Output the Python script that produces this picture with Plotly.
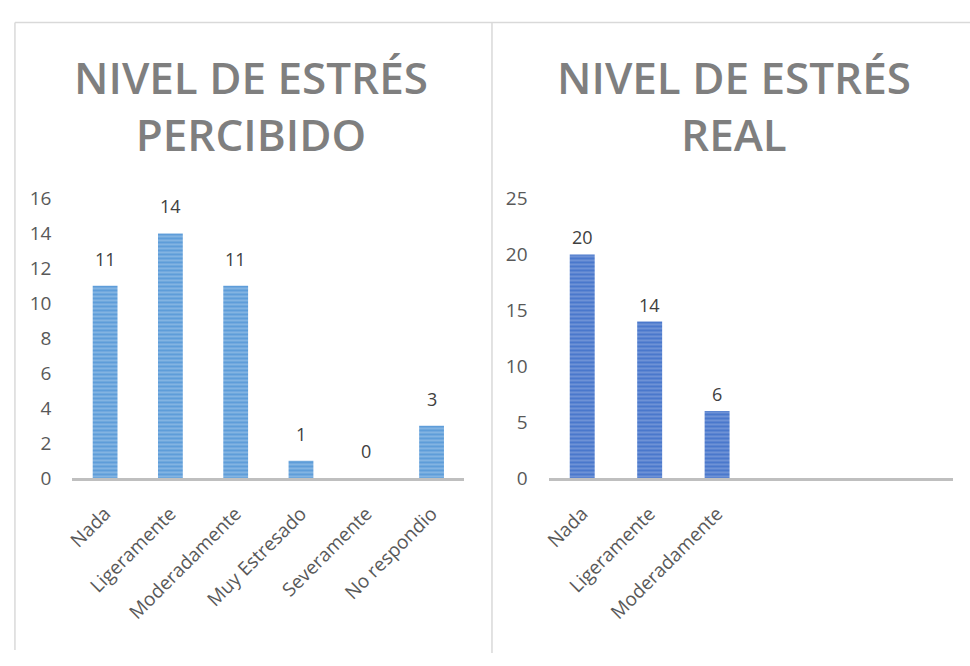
import plotly.graph_objects as go

# ---- data ----
cats_percibido = ["Nada", "Ligeramente", "Moderadamente", "Muy Estresado", "Severamente", "No respondio"]
vals_percibido = [11, 14, 11, 1, 0, 3]
cats_real = ["Nada", "Ligeramente", "Moderadamente"]
vals_real = [20, 14, 6]
ticks_percibido = [0, 2, 4, 6, 8, 10, 12, 14, 16]
ticks_real = [0, 5, 10, 15, 20, 25]
title_percibido = "NIVEL DE ESTRÉS<br>PERCIBIDO"
title_real = "NIVEL DE ESTRÉS<br>REAL"

W, H = 970, 666
FONT = "Open Sans"

fig = go.Figure()

fig.add_trace(go.Bar(
    x=cats_percibido, y=vals_percibido, xaxis="x", yaxis="y",
    width=0.38,
    marker=dict(color="#6aa5dd", line=dict(width=0),
                pattern=dict(shape="-", fgcolor="#b0d1ef", bgcolor="#5e9dd9", size=4, solidity=0.45)),
    showlegend=False, hoverinfo="x+y",
))
fig.add_trace(go.Bar(
    x=cats_real, y=vals_real, xaxis="x2", yaxis="y2",
    width=0.37,
    marker=dict(color="#4472c4", line=dict(width=0),
                pattern=dict(shape="-", fgcolor="#9ab2e4", bgcolor="#4a78cc", size=4, solidity=0.45)),
    showlegend=False, hoverinfo="x+y",
))

ydom = [1 - 484 / H, 1 - 193 / H]
axis_common = dict(showgrid=False, zeroline=False, fixedrange=True)
xfont = dict(size=19, color="#595959")
yfont = dict(size=19, color="#595959")
fig.update_layout(
    width=W, height=H,
    margin=dict(l=0, r=0, t=0, b=0),
    paper_bgcolor="white", plot_bgcolor="white",
    font=dict(family=FONT, color="#595959", size=17),
    xaxis=dict(domain=[65 / W, 460 / W], type="category", range=[-0.5, 5.5],
               showline=True, linecolor="#bfbfbf", linewidth=3, ticks="",
               ticklabelstandoff=14, tickangle=-45, tickfont=xfont, anchor="y", **axis_common),
    yaxis=dict(domain=ydom, range=[0, 16], tickvals=ticks_percibido, showline=False,
               ticklabelstandoff=20, tickfont=yfont, anchor="x", **axis_common),
    xaxis2=dict(domain=[545 / W, 953 / W], type="category", range=[-0.5, 5.5],
                showline=True, linecolor="#bfbfbf", linewidth=3, ticks="",
                ticklabelstandoff=14, tickangle=-45, tickfont=xfont, anchor="y2", **axis_common),
    yaxis2=dict(domain=ydom, range=[0, 25], tickvals=ticks_real, showline=False,
                ticklabelstandoff=20, tickfont=yfont, anchor="x2", **axis_common),
)

# data labels
for c, v in zip(cats_percibido, vals_percibido):
    fig.add_annotation(x=c, y=v, xref="x", yref="y", text=str(v), showarrow=False,
                       yshift=27, font=dict(size=18, color="#404040"))
for c, v in zip(cats_real, vals_real):
    fig.add_annotation(x=c, y=v, xref="x2", yref="y2", text=str(v), showarrow=False,
                       yshift=17, font=dict(size=18, color="#404040"))

# titles
for txt, xc in [(title_percibido, 245), (title_real, 732)]:
    fig.add_annotation(x=xc / W, y=1 - 96 / H, xref="paper", yref="paper", text=txt,
                       showarrow=False, xanchor="center", yanchor="middle",
                       font=dict(family=FONT, size=44, color="#7f7f7f", weight=600),
                       )

# panel borders
border = dict(color="#d9d9d9", width=1.5)
fig.add_shape(type="line", xref="paper", yref="paper", x0=7 / W, x1=1, y0=1 - 10 / H, y1=1 - 10 / H, line=border)
fig.add_shape(type="line", xref="paper", yref="paper", x0=7 / W, x1=7 / W, y0=1 - 10 / H, y1=1 - 663 / H, line=border)
fig.add_shape(type="line", xref="paper", yref="paper", x0=488 / W, x1=488 / W, y0=1 - 10 / H, y1=0, line=border)

fig.write_html("out.html", config={"displayModeBar": False},
               post_script="document.body.style.margin='0';")
